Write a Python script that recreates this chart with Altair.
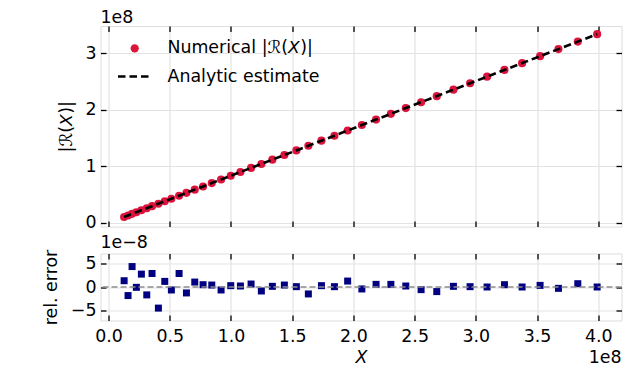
import altair as alt
import pandas as pd

# ---- data (x and |R(X)| in units of 1e8, relative error in units of 1e-8) ----
x_vals = [0.127, 0.159, 0.192, 0.227, 0.268, 0.312, 0.355, 0.407, 0.459, 0.513,
          0.576, 0.636, 0.704, 0.772, 0.843, 0.919, 0.998, 1.077, 1.164, 1.248,
          1.338, 1.436, 1.534, 1.632, 1.739, 1.845, 1.953, 2.069, 2.185, 2.306,
          2.428, 2.553, 2.681, 2.817, 2.953, 3.092, 3.234, 3.378, 3.525, 3.675,
          3.833, 3.991]
numerical = [0.106, 0.133, 0.161, 0.190, 0.224, 0.261, 0.297, 0.340, 0.384, 0.429,
             0.482, 0.532, 0.589, 0.645, 0.705, 0.768, 0.834, 0.900, 0.973, 1.043,
             1.119, 1.200, 1.282, 1.364, 1.454, 1.542, 1.633, 1.730, 1.827, 1.928,
             2.030, 2.134, 2.241, 2.355, 2.469, 2.585, 2.704, 2.824, 2.947, 3.072,
             3.204, 3.336]
analytic = [0.106, 0.133, 0.161, 0.190, 0.224, 0.261, 0.297, 0.340, 0.384, 0.429,
            0.482, 0.532, 0.589, 0.645, 0.705, 0.768, 0.834, 0.900, 0.973, 1.043,
            1.119, 1.200, 1.282, 1.364, 1.454, 1.542, 1.633, 1.730, 1.827, 1.928,
            2.030, 2.134, 2.241, 2.355, 2.469, 2.585, 2.704, 2.824, 2.947, 3.072,
            3.204, 3.336]
rel_err = [1.31, -1.79, 4.27, -0.07, 2.69, -1.65, 2.82, -4.41, 1.17, -0.62,
           2.82, -1.24, 1.03, 0.48, 0.41, -0.62, 0.28, 0.21, 0.62, -0.83,
           0.14, 0.41, 0.07, -1.45, 0.28, 0.07, 1.24, -0.41, 0.55, 0.55,
           0.21, -0.55, -0.96, 0.14, 0.07, 0.0, 0.48, 0.0, 0.34, -0.28,
           0.69, 0.0]

x_ticks = [0.0, 0.5, 1.0, 1.5, 2.0, 2.5, 3.0, 3.5, 4.0]
y_top_ticks = [0, 1, 2, 3]
y_bot_ticks = [-5, 0, 5]
series_num = "Numerical |ℛ(𝘟)|"
series_ana = "Analytic estimate"
x_title = "X"
y_top_title = "|ℛ(𝘟)|"
y_bot_title = "rel. error"
top_offset_label = ["1e8"]
bot_offset_label = ["1e\u22128"]
x_offset_label = ["1e8"]

FONT = "DejaVu Sans"
FS = 17.4
W, H1, H2 = 521, 200.6, 67
TS = 5.5  # inward tick length

df = pd.DataFrame({"x": x_vals, "num": numerical, "ana": analytic, "err": rel_err,
                   "s1": series_num, "s2": series_ana})

xscale = alt.Scale(domain=[-0.066, 4.19], nice=False, zero=False)
y1scale = alt.Scale(domain=[-0.064, 3.48], nice=False, zero=False)
y2scale = alt.Scale(domain=[-7, 7], nice=False, zero=False)


def grid_axis(orient, values):
    return alt.Axis(orient=orient, values=values, grid=True, gridColor="#e3e3e3",
                    gridWidth=1.2, ticks=False, labels=False, domain=False, title=None)


def tick_axis(orient, values, labels=False, fmt=None, title=None, pad=4.5,
              title_pad=9.6, italic=False):
    kw = dict(orient=orient, values=values, grid=False, ticks=True, tickSize=TS,
              tickWidth=1.3, tickColor="black", offset=-TS, domain=False,
              labels=labels, labelFont=FONT, labelFontSize=FS, labelColor="black",
              labelPadding=pad, labelFlush=False, labelOverlap=False, labelBound=False)
    if fmt:
        kw["format"] = fmt
    if title:
        kw.update(title=title, titleFont=FONT, titleFontSize=FS, titleColor="black",
                  titleFontWeight="normal", titlePadding=title_pad)
        if italic:
            kw["titleFontStyle"] = "italic"
    else:
        kw["title"] = None
    return alt.Axis(**kw)


base = alt.Chart(df)

# ---------------- top panel ----------------
pts = base.mark_circle(size=66, opacity=1).encode(
    x=alt.X("x:Q", scale=xscale, axis=grid_axis("bottom", x_ticks)),
    y=alt.Y("num:Q", scale=y1scale, axis=grid_axis("left", y_top_ticks)),
    color=alt.Color("s1:N", scale=alt.Scale(range=["#DC143C"]),
                    legend=alt.Legend(orient="none", legendX=25.5, legendY=13.6, padding=0,
                                      title=None, symbolType="circle", symbolSize=68,
                                      symbolStrokeWidth=0, symbolOpacity=1,
                                      labelFont=FONT, labelFontSize=FS, labelColor="black",
                                      labelOffset=24)),
)
line = base.mark_line(color="black", strokeWidth=2.6).encode(
    x=alt.X("x:Q", scale=xscale, axis=tick_axis("bottom", x_ticks)),
    y=alt.Y("ana:Q", scale=y1scale,
            axis=tick_axis("left", y_top_ticks, labels=True, fmt="d", title=y_top_title)),
    strokeDash=alt.StrokeDash("s2:N", scale=alt.Scale(range=[[7.5, 4]]),
                              legend=alt.Legend(orient="none", legendX=16, legendY=32,
                                                padding=0, title=None, symbolType="stroke",
                                                symbolSize=1156, symbolStrokeColor="black",
                                                symbolStrokeWidth=2.6,
                                                labelFont=FONT, labelFontSize=FS,
                                                labelColor="black", labelOffset=14)),
)
frame_top = base.mark_circle(opacity=0).encode(
    x=alt.X("x:Q", scale=xscale, axis=tick_axis("top", x_ticks)),
    y=alt.Y("num:Q", scale=y1scale, axis=tick_axis("right", y_top_ticks)),
)
txt_top = alt.Chart(pd.DataFrame({"t": top_offset_label})).mark_text(
    font=FONT, fontSize=FS, align="left", baseline="alphabetic", color="black"
).encode(x=alt.value(0), y=alt.value(-3), text="t:N")

top = alt.layer(pts, line, frame_top, txt_top).resolve_axis(
    x="independent", y="independent").properties(width=W, height=H1)

# ---------------- bottom panel ----------------
sq = base.mark_square(size=49, color="#000080", opacity=1).encode(
    x=alt.X("x:Q", scale=xscale, axis=grid_axis("bottom", x_ticks)),
    y=alt.Y("err:Q", scale=y2scale, axis=grid_axis("left", y_bot_ticks)),
)
zero = alt.Chart(pd.DataFrame({"z": [0]})).mark_rule(
    color="#8c8c8c", strokeWidth=1.6, strokeDash=[6, 3]
).encode(y=alt.Y("z:Q", scale=y2scale, axis=tick_axis("left", y_bot_ticks, labels=True,
                                                      fmt="d", title=y_bot_title)))
frame_bot = base.mark_square(opacity=0).encode(
    x=alt.X("x:Q", scale=xscale, axis=tick_axis("bottom", x_ticks, labels=True, fmt=".1f",
                                                pad=7, title=x_title, italic=True,
                                                title_pad=4)),
    y=alt.Y("err:Q", scale=y2scale, axis=tick_axis("right", y_bot_ticks)),
)
frame_bot2 = base.mark_square(opacity=0).encode(
    x=alt.X("x:Q", scale=xscale, axis=tick_axis("top", x_ticks)),
    y=alt.Y("err:Q", scale=y2scale, axis=None),
)
txt_bot = alt.Chart(pd.DataFrame({"t": bot_offset_label})).mark_text(
    font=FONT, fontSize=FS, align="left", baseline="alphabetic", color="black"
).encode(x=alt.value(0), y=alt.value(-5.5), text="t:N")
txt_x = alt.Chart(pd.DataFrame({"t": x_offset_label})).mark_text(
    font=FONT, fontSize=FS, align="right", baseline="alphabetic", color="black"
).encode(x=alt.value(W), y=alt.value(H2 + 42.7), text="t:N")

bottom = alt.layer(sq, zero, frame_bot, frame_bot2, txt_bot, txt_x).resolve_axis(
    x="independent", y="independent").properties(width=W, height=H2)

chart = alt.vconcat(top, bottom, spacing=1.5).properties(
    padding={"left": 33.5, "top": 0, "right": 0, "bottom": 0}
).configure_view(stroke="black", strokeWidth=1.6).configure(font=FONT)

chart.save("out.html", embed_options={"renderer": "svg", "actions": False})
